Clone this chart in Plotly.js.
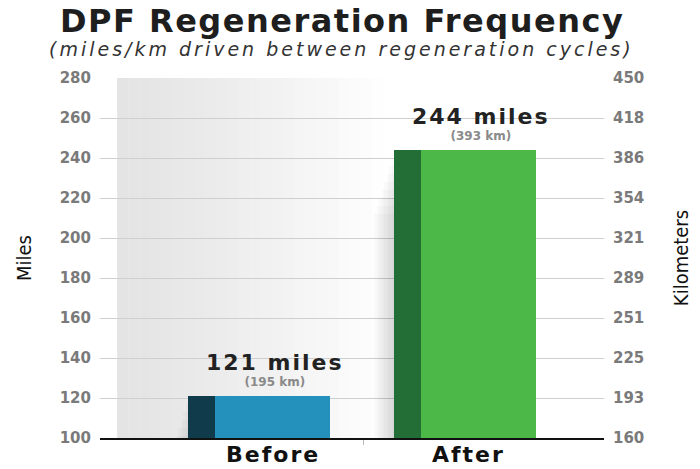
<!DOCTYPE html>
<html>
<head>
<meta charset="utf-8">
<script src="https://cdn.plot.ly/plotly-3.0.1.min.js"></script>
<style>html,body{margin:0;padding:0;background:#fff;}#chart{width:700px;height:469px;}</style>
</head>
<body>
<div id="chart"></div>
<script>
const categories = ['Before', 'After'];
const miles = [121, 244];
const km = [195, 393];
const mileTicks = [100, 120, 140, 160, 180, 200, 220, 240, 260, 280];
const kmTickText = ['160', '193', '225', '251', '289', '321', '354', '386', '418', '450'];
const frontColors = ['#2391bc', '#4cb848'];
const sideColors = ['#0f3b4b', '#236d37'];
const labelShift = [2, -8];

const traces = [];
// soft shadow layers
for (let k = 1; k <= 8; k++) {
  traces.push({
    type: 'bar', x: categories, y: miles.map(v => v - 4 * k),
    offset: -0.40 - 0.012 * k, width: 0.13,
    marker: {color: 'rgba(0,0,0,0.018)', line: {width: 0}},
    hoverinfo: 'skip', showlegend: false
  });
}
traces.push({
  type: 'bar', x: categories, y: miles, offset: -0.40, width: 0.136,
  marker: {color: sideColors, line: {width: 0}}, showlegend: false
});
traces.push({
  type: 'bar', x: categories, y: miles, offset: -0.27, width: 0.558,
  marker: {color: frontColors, line: {width: 0}}, showlegend: false
});
traces.push({
  type: 'scatter', x: categories, y: km, yaxis: 'y2', mode: 'markers',
  marker: {opacity: 0}, hoverinfo: 'skip', showlegend: false
});

const annotations = [];
categories.forEach((c, i) => {
  annotations.push({
    x: c, y: miles[i], xref: 'x', yref: 'y', yanchor: 'bottom', showarrow: false,
    text: '<span style="font-size:22px;color:#222;letter-spacing:2px">' + miles[i] + ' miles</span><br>(' + km[i] + ' km)',
    yshift: 5, xshift: 4, align: 'center',
    font: {family: 'DejaVu Sans', size: 12, color: '#8a8a8a', weight: 'bold'}
  });
  annotations.push({
    x: c, y: 0, xref: 'x', yref: 'paper', yanchor: 'top', yshift: -2, xshift: labelShift[i], showarrow: false,
    text: '<span style="letter-spacing:2px">' + c + '</span>',
    font: {family: 'DejaVu Sans', size: 22, color: '#111', weight: 'bold'}
  });
});
annotations.push({
  xref: 'paper', yref: 'paper', x: 0.5, y: 1, yanchor: 'bottom', yshift: 36, xshift: -10, showarrow: false,
  text: '<span style="letter-spacing:1.5px">DPF Regeneration Frequency</span>',
  font: {family: 'DejaVu Sans', size: 32, color: '#1e1e1e', weight: 'bold'}
});
annotations.push({
  xref: 'paper', yref: 'paper', x: 0.5, y: 1, yanchor: 'bottom', yshift: 16, xshift: -11, showarrow: false,
  text: '<i><span style="letter-spacing:3px">(miles/km driven between regeneration cycles)</span></i>',
  font: {family: 'DejaVu Sans', size: 19, color: '#333'}
});

// background gradient
const shapes = [];
const nSteps = 24;
for (let s = 0; s < nSteps; s++) {
  const x0 = 0.034 + s * 0.022;
  const g = Math.round(228 + (255 - 228) * Math.pow(s / nSteps, 1.2));
  shapes.push({
    type: 'rect', xref: 'paper', yref: 'paper', x0: x0, x1: x0 + 0.023, y0: 0, y1: 1,
    fillcolor: `rgb(${g},${g},${g})`, line: {width: 0}, layer: 'below'
  });
}

const tickFont = {family: 'DejaVu Sans', size: 15, color: '#7a7a7a', weight: 'bold'};
const titleFont = {family: 'DejaVu Sans Condensed, Liberation Sans', size: 20, color: '#111'};
const layout = {
  width: 700, height: 469,
  margin: {l: 100, r: 96, t: 78, b: 31},
  paper_bgcolor: '#fff', plot_bgcolor: '#fff',
  barmode: 'overlay', bargap: 0,
  showlegend: false,
  xaxis: {
    type: 'category', range: [-0.828, 1.619], showgrid: false,
    tickvals: [0.45], ticktext: [''], ticks: 'outside', ticklen: 5, tickcolor: '#bbb',
    showline: true, linecolor: '#111', linewidth: 1.5, zeroline: false, fixedrange: true
  },
  yaxis: {
    range: [100, 280], tickvals: mileTicks, ticktext: mileTicks.map(String),
    showgrid: true, gridcolor: '#cfcfcf', gridwidth: 1, zeroline: false,
    tickfont: tickFont, ticks: '', ticklabelstandoff: 8,
    title: {text: 'Miles', font: titleFont, standoff: 22}
  },
  yaxis2: {
    overlaying: 'y', side: 'right', range: [100, 280], tickvals: mileTicks, ticktext: kmTickText,
    showgrid: false, zeroline: false, tickfont: tickFont, ticks: '', ticklabelstandoff: 8,
    title: {text: 'Kilometers', font: titleFont, standoff: 30}
  },
  annotations: annotations,
  shapes: shapes
};

Plotly.newPlot('chart', traces, layout, {displayModeBar: false, staticPlot: true});
</script>
</body>
</html>
